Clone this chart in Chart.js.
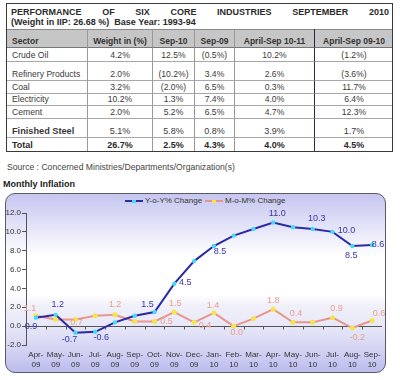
<!DOCTYPE html>
<html><head><meta charset="utf-8">
<script src="https://cdn.jsdelivr.net/npm/chart.js@4.4.0/dist/chart.umd.min.js"></script>
<style>
body{margin:0;width:400px;height:380px;background:#fff;font-family:"Liberation Sans",Arial,sans-serif;position:relative;overflow:hidden;color:#333}
.abs{position:absolute;box-sizing:border-box}
#tblBorder{left:6px;top:3px;width:387px;height:149px;border:1px solid #3a3a3a;z-index:5;pointer-events:none}
#title{left:7px;top:7px;width:384px;padding:0 2px 0 4px;font-size:9px;font-weight:bold;line-height:10px;color:#2a2a2a}
#title .l1{display:flex;justify-content:space-between}
.cell{display:flex;align-items:flex-end;justify-content:center;padding-bottom:1px;line-height:10px;font-size:8.6px;color:#3a3a3a;white-space:nowrap}
.cell.first{justify-content:flex-start;padding-left:6px}
#source{left:7px;top:162px;font-size:8.6px;color:#444;line-height:10px;white-space:nowrap}
#mtitle{left:3px;top:179px;font-size:9px;font-weight:bold;color:#222;line-height:10px}
#box{left:5px;top:193px;width:381px;height:180px;border:1.5px solid #5a5a66;border-radius:10px;
background:linear-gradient(to bottom,#c6c6f0 0%,#dcdcf6 14%,#f4f4fd 28%,#ffffff 35%,#ffffff 57%,#f1f1fb 62%,#e6e6f8 75%,#d6d6f4 86%,#bcbcee 100%)}
#chartWrap{left:5px;top:193px;width:381px;height:180px}
#legend{left:5px;top:195px;width:381px;height:12px;font-size:8px;color:#333;line-height:12px}
.lg{position:absolute;top:0;display:flex;align-items:center;white-space:nowrap}
.mk{position:relative;width:18px;height:2px;margin-right:2px}
.mk span{position:absolute;left:7px;top:-0.5px;width:4px;height:3px}
</style>
</head>
<body>
<div id="tblBorder" class="abs"></div>
<div id="title" class="abs">
  <div class="l1"><span>PERFORMANCE</span><span>OF</span><span>SIX</span><span>CORE</span><span>INDUSTRIES</span><span>SEPTEMBER</span><span>2010</span></div>
  <div>(Weight in IIP: 26.68 %)&nbsp; Base Year: 1993-94</div>
</div>
<div id="cells"></div>
<div id="source" class="abs">Source : Concerned Ministries/Departments/Organization(s)</div>
<div id="mtitle" class="abs">Monthly Inflation</div>
<div id="box" class="abs"></div>
<div id="legend" class="abs">
  <div class="lg" style="left:120px"><div class="mk" style="background:#2a2aa6"><span style="background:#48d8f8"></span></div>Y-o-Y% Change</div>
  <div class="lg" style="left:200px"><div class="mk" style="background:#e8958c"><span style="background:#f6e44c"></span></div>M-o-M% Change</div>
</div>
<div id="chartWrap" class="abs"><canvas id="c" width="381" height="180"></canvas></div>
<script>
// ---- table data ----
const tableHeaders = ['Sector','Weight in (%)','Sep-10','Sep-09','April-Sep 10-11','April-Sep 09-10'];
const sectors = ['Crude Oil','Refinery Products','Coal','Electricity','Cement','Finished Steel','Total'];
const weights = ['4.2%','2.0%','3.2%','10.2%','2.0%','5.1%','26.7%'];
const sep10 = ['12.5%','(10.2%)','(2.0%)','1.3%','5.2%','5.8%','2.5%'];
const sep09 = ['(0.5%)','3.4%','6.5%','7.4%','6.5%','0.8%','4.3%'];
const aprSep1011 = ['10.2%','2.6%','0.3%','4.0%','4.7%','3.9%','4.0%'];
const aprSep0910 = ['(1.2%)','(3.6%)','11.7%','6.4%','12.3%','1.7%','4.5%'];

// ---- chart data ----
const categories = ['Apr-09','May-09','Jun-09','Jul-09','Aug-09','Sep-09','Oct-09','Nov-09','Dec-09',
  'Jan-10','Feb-10','Mar-10','Apr-10','May-10','Jun-10','Jul-10','Aug-10','Sep-10'];
const yoyChange = [0.9,1.2,-0.7,-0.6,0.4,1.1,1.5,4.5,6.9,8.5,9.6,10.3,11.0,10.5,10.3,10.0,8.5,8.6];
const momChange = [1.1,0.7,0.7,1.1,1.2,0.5,0.5,1.5,0.4,1.4,0.0,0.8,1.8,0.4,0.4,0.9,-0.2,0.6];
const yTicks = [-2,0,2,4,6,8,10,12];

// ---- layout (not data) ----
const colX = [6,88,153,195,235,315,393];
const rowY = [29,48,62,81,94,106,119,138,151];
// label offsets from point [dx,dy], null = no label
const yoyLabelPos = [[-5,9],[2,-10],[-6,7],[6,6],null,null,[-7,-7],[11,-1],null,[6,6],null,null,[4,-9],null,[4,-11],[14,-1],[-1,10],[6,-1]];
const momLabelPos = [[-6,-7],null,[1,3],null,[0,-10],null,[12,0],[1,-8],[11,3],[-1,-7],[3,6],null,[0,-9],[3,-9],null,[4,-9],[5,9],[7,-7]];

// ---- build table ----
(function(){
  const host = document.getElementById('cells');
  const hdr = document.createElement('div');
  hdr.className='abs';
  hdr.style.cssText='left:6px;top:29px;width:387px;height:19px;background:#c6c6c6;border-top:1px solid #8a8a8a';
  host.appendChild(hdr);
  const rows = [tableHeaders];
  for(let i=0;i<sectors.length;i++) rows.push([sectors[i],weights[i],sep10[i],sep09[i],aprSep1011[i],aprSep0910[i]]);
  rows.forEach((r,i)=>{
    r.forEach((t,j)=>{
      const d=document.createElement('div');
      d.className='abs cell'+(j===0?' first':'');
      d.style.left=colX[j]+'px'; d.style.top=rowY[i]+'px';
      d.style.width=(colX[j+1]-colX[j])+'px'; d.style.height=(rowY[i+1]-rowY[i])+'px';
      if(i<rows.length-1) d.style.borderBottom='1px solid #a8a8a8';
      if(j===4) d.style.borderRight='1.5px solid #1e2a55';
      else if(j<5) d.style.borderRight='1px solid #999';
      if(i===0){d.style.fontWeight='bold';d.style.color='#333';d.style.fontSize='8.5px';d.style.borderBottom='1px solid #777';}
      if(i===6 && j===0){d.style.fontWeight='bold';d.style.fontSize='9.2px';}
      if(i===6 && j>0){d.style.fontSize='9px';}
      if(i===7){d.style.fontWeight='bold';d.style.fontSize='9px';d.style.color='#2a2a2a';}
      d.textContent=t;
      host.appendChild(d);
    });
  });
})();

// ---- chart ----
const FONT='"Liberation Sans", Arial, sans-serif';
const zeroLine={id:'zeroLine',beforeDatasetsDraw(chart){
  const {ctx,chartArea:a,scales:{x,y}}=chart;
  const y0=Math.round(y.getPixelForValue(0))+0.5;
  ctx.save();ctx.strokeStyle='#555';ctx.lineWidth=1;
  ctx.beginPath();ctx.moveTo(a.left,y0);ctx.lineTo(a.right,y0);
  const n=categories.length, step=(a.right-a.left)/n;
  for(let i=1;i<n;i++){const xx=Math.round(a.left+i*step)+0.5;ctx.moveTo(xx,y0);ctx.lineTo(xx,y0+3);}
  ctx.stroke();ctx.restore();
}};
const pointLabels={id:'pointLabels',afterDatasetsDraw(chart){
  const ctx=chart.ctx;
  const cfg=[[yoyLabelPos,'#3434a8'],[momLabelPos,'#e8a08c']];
  ctx.save();ctx.font='9px '+FONT;ctx.textAlign='center';ctx.textBaseline='middle';
  chart.data.datasets.forEach((ds,di)=>{
    const meta=chart.getDatasetMeta(di);const [pos,col]=cfg[di];
    ctx.fillStyle=col;
    meta.data.forEach((el,i)=>{const p=pos[i];if(!p)return;ctx.fillText(ds.data[i].toFixed(1),el.x+p[0],el.y+p[1]);});
  });
  ctx.restore();
}};
new Chart(document.getElementById('c'),{
  type:'line',
  data:{labels:categories.map(c=>{const p=c.split('-');return [p[0]+'-',p[1]];}),
    datasets:[
      {label:'Y-o-Y% Change',data:yoyChange,borderColor:'#2a2aa6',borderWidth:2,tension:0,
       pointRadius:2.2,pointBackgroundColor:'#48d8f8',pointBorderWidth:0},
      {label:'M-o-M% Change',data:momChange,borderColor:'#e8958c',borderWidth:2,tension:0,
       pointRadius:2.5,pointBackgroundColor:'#f6e44c',pointBorderWidth:0}
    ]},
  options:{responsive:false,animation:false,events:[],
    layout:{padding:{top:20,left:0,right:0,bottom:0}},
    plugins:{legend:{display:false},tooltip:{enabled:false}},
    scales:{
      x:{offset:true,grid:{display:false,drawTicks:false,tickLength:0},border:{display:false},
         ticks:{padding:5,color:'#333',font:{size:8,family:FONT,lineHeight:1.2},maxRotation:0,autoSkip:false},
         afterFit(s){s.height=28;}},
      y:{min:-2,max:12,afterBuildTicks(s){s.ticks=yTicks.map(v=>({value:v}));},
         ticks:{padding:1,color:'#333',font:{size:8,family:FONT},callback:v=>Number(v).toFixed(1)},
         grid:{drawOnChartArea:false,tickLength:4,color:'#555'},border:{color:'#555'},
         afterFit(s){s.width=21;}}
    }
  },
  plugins:[zeroLine,pointLabels]
});
</script>
</body></html>
